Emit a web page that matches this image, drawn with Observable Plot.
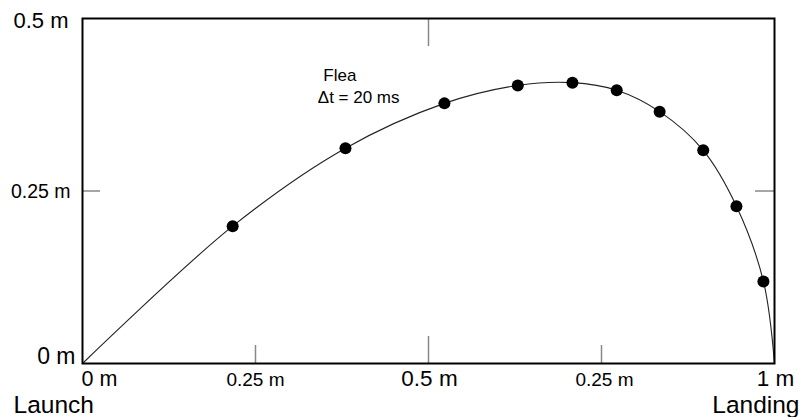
<!DOCTYPE html>
<html><head><meta charset="utf-8">
<script src="https://cdn.jsdelivr.net/npm/d3@7"></script>
<script src="https://cdn.jsdelivr.net/npm/@observablehq/plot@0.6"></script>
<style>body{margin:0;background:#fff} svg{display:block}</style>
</head><body><div id="chart"></div>
<script>
// Flea positions, one every 20 ms (metres)
const dotX = [0.217, 0.380, 0.523, 0.629, 0.708, 0.772, 0.834, 0.897, 0.945, 0.984];
const dotY = [0.199, 0.312, 0.377, 0.403, 0.407, 0.396, 0.365, 0.309, 0.228, 0.119];
// trajectory curve: launch, through the dots, landing
const curveX = [0, ...dotX, 1];
const curveY = [0, ...dotY, 0];
const xTicks = [0, 0.25, 0.5, 0.75, 1];
const xTickLabels = ["0 m", "0.25 m", "0.5 m", "0.25 m", "1 m"];
const yTicks = [0, 0.25, 0.5];
const yTickLabels = ["0 m", "0.25 m", "0.5 m"];
const endLabels = ["Launch", "Landing"];
const noteLines = ["Flea", "\u0394t = 20 ms"];
const noteX = [0.348, 0.340];
const noteY = [0.409, 0.378];

const font = "'Liberation Sans', Arial, Helvetica, sans-serif";
const dots = dotX.map((x, i) => ({x, y: dotY[i]}));
const curve = curveX.map((x, i) => ({x, y: curveY[i]}));
const xl = xTicks.map((v, i) => ({v, label: xTickLabels[i]}));
const yl = yTicks.map((v, i) => ({v, label: yTickLabels[i]}));
const notes = noteLines.map((t, i) => ({t, x: noteX[i], y: noteY[i]}));

const xLab = (i, opts) => Plot.text([xl[i]], {x: "v", y: () => 0, text: "label", lineAnchor: "bottom", dy: 22, fill: "black", ...opts});
const yLab = (i, opts) => Plot.text([yl[i]], {x: () => 0, y: "v", text: "label", textAnchor: "end", fill: "black", ...opts});

const chart = Plot.plot({
  width: 810, height: 417,
  marginLeft: 82, marginRight: 36, marginTop: 18, marginBottom: 54,
  x: {domain: [0, 1], axis: null},
  y: {domain: [0, 0.5], axis: null},
  style: {fontFamily: font, background: "white", overflow: "visible"},
  marks: [
    // inward ticks
    Plot.ruleX([xTicks[1], xTicks[3]], {x: d => d, insetTop: 345 - 18, stroke: "#888", strokeWidth: 1.5}),
    Plot.ruleX([xTicks[2]], {x: d => d, insetTop: 345 - 27, stroke: "#888", strokeWidth: 1.5}),
    Plot.ruleX([xTicks[2]], {x: d => d, insetBottom: 345 - 28, stroke: "#888", strokeWidth: 1.5}),
    Plot.ruleY([yTicks[1]], {y: d => d, insetRight: 692 - 18, stroke: "#888", strokeWidth: 1.5}),
    Plot.ruleY([yTicks[1]], {y: d => d, insetLeft: 692 - 19, stroke: "#888", strokeWidth: 1.5}),
    Plot.line(curve, {x: "x", y: "y", curve: "catmull-rom", stroke: "#222", strokeWidth: 1.1}),
    Plot.dot(dots, {x: "x", y: "y", r: 6, fill: "black", stroke: "none"}),
    Plot.frame({stroke: "black", strokeWidth: 2}),
    // x tick labels
    xLab(0, {textAnchor: "start", fontSize: 21.5, dx: -1}),
    xLab(1, {fontSize: 19, dx: 0}),
    xLab(2, {fontSize: 22.5, dx: 1}),
    xLab(3, {fontSize: 19, dx: 3}),
    xLab(4, {fontSize: 22.5, dx: 1}),
    // y tick labels
    yLab(0, {fontSize: 23, dx: -7, lineAnchor: "bottom", dy: 0}),
    yLab(1, {fontSize: 19.5, dx: -12, lineAnchor: "bottom", dy: 7}),
    yLab(2, {fontSize: 22, dx: -14, lineAnchor: "bottom", dy: 9.5}),
    // end labels
    Plot.text([endLabels[0]], {x: () => 0, y: () => 0, text: d => d, textAnchor: "start", lineAnchor: "bottom", dx: -69, dy: 49, fontSize: 24.5, fill: "black"}),
    Plot.text([endLabels[1]], {x: () => 1, y: () => 0, text: d => d, textAnchor: "end", lineAnchor: "bottom", dx: 25, dy: 49, fontSize: 24.5, fill: "black"}),
    // annotation
    Plot.text(notes, {x: "x", y: "y", text: "t", textAnchor: "start", lineAnchor: "bottom", fontSize: 17, fill: "black"})
  ]
});
document.getElementById("chart").appendChild(chart);
</script>
</body></html>
